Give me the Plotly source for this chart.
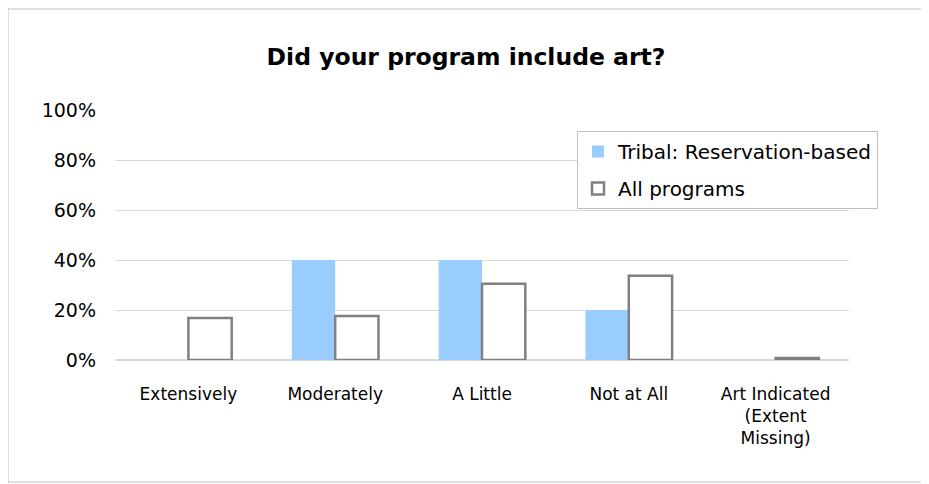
import plotly.graph_objects as go

categories = ["Extensively", "Moderately", "A Little", "Not at All", "Art Indicated<br>(Extent<br>Missing)"]
tribal = [0, 40, 40, 20, 0]
all_programs = [16.8, 17.6, 30.5, 33.7, 0.8]
y_ticks = [0, 20, 40, 60, 80, 100]
y_tick_labels = ["0%", "20%", "40%", "60%", "80%", "100%"]

FONT = "DejaVu Sans"
OFF = 8  # page body margin
L, R, T, B = 115 - OFF, 849 - OFF, 110 - OFF, 360 - OFF
W, H = 929, 484
PW, PH = R - L, B - T

def px(x):
    return (x - OFF - L) / PW

def py(y):
    return (B - (y - OFF)) / PH

fig = go.Figure()
fig.add_trace(go.Bar(
    x=categories, y=tribal, name="Tribal: Reservation-based", legendgroup="a",
    marker=dict(color="#99CCFF", line=dict(width=0)),
))
fig.add_trace(go.Bar(
    x=categories, y=all_programs, name="All programs", legendgroup="b",
    marker=dict(color="white", line=dict(color="#808080", width=2.5)),
))

fig.update_layout(
    width=W, height=H,
    paper_bgcolor="white", plot_bgcolor="white",
    margin=dict(l=L, r=W - R, t=T, b=H - B, autoexpand=False),
    barmode="group", bargap=0.41, bargroupgap=0,
    title=dict(text="<b>Did your program include art?</b>", x=(466 - OFF) / W, xanchor="center",
               y=1 - (57 - OFF) / H, yanchor="middle",
               font=dict(family=FONT, size=23.5, color="black")),
    legend=dict(x=px(577), y=py(131), xanchor="left", yanchor="top",
                bordercolor="#bfbfbf", borderwidth=1, bgcolor="white",
                font=dict(family=FONT, size=20, color="black"),
                tracegroupgap=8, itemwidth=30),
    showlegend=True,
    xaxis=dict(showgrid=False, showline=False, ticks="", tickfont=dict(family=FONT, size=17, color="black"),
               ticklabelstandoff=22),
    yaxis=dict(range=[0, 100], tickvals=y_ticks, ticktext=y_tick_labels,
               showgrid=True, gridcolor="#d9d9d9", gridwidth=1, zeroline=True, zerolinecolor="#d9d9d9",
               showline=False, ticks="", tickfont=dict(family=FONT, size=19, color="black"),
               ticklabelstandoff=18),
    shapes=[dict(type="rect", xref="paper", yref="paper",
                 x0=px(8), x1=px(927),
                 y0=py(482), y1=py(9),
                 line=dict(color="#bfbfbf", width=1), layer="below")],
)

fig.write_html("out.html")
